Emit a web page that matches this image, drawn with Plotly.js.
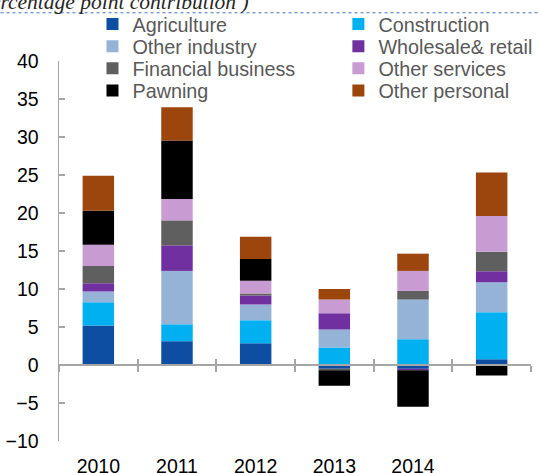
<!DOCTYPE html>
<html>
<head>
<meta charset="utf-8">
<script src="https://cdn.plot.ly/plotly-3.0.1.min.js"></script>
<style>html,body{margin:0;padding:0;background:#fff;}#chart{width:539px;height:473px;}</style>
</head>
<body>
<div id="chart"></div>
<script>
// ---- data ----
var categories = ["2010", "2011", "2012", "2013", "2014", "2015"];
var tickLabels = ["2010", "2011", "2012", "2013", "2014", ""];
var seriesNames = ["Agriculture", "Construction", "Other industry", "Wholesale& retail",
                   "Financial business", "Other services", "Pawning", "Other personal"];
var agriculture     = [5.19, 3.13, 2.87, -0.50, -0.50, 0.76];
var construction    = [3.06, 2.23, 3.02, 2.30, 3.39, 6.18];
var otherIndustry   = [1.41, 7.02, 2.06, 2.36, 5.22, 3.94];
var wholesaleRetail = [1.09, 3.36, 1.18, 2.15, -0.20, 1.45];
var financial       = [2.29, 3.29, 0.27, -0.20, 1.14, 2.58];
var otherServices   = [2.79, 2.81, 1.70, 1.80, 2.63, 4.69];
var pawning         = [4.47, 7.70, 2.86, -2.03, -4.80, -1.38];
var otherPersonal   = [4.60, 4.39, 2.93, 1.40, 2.27, 5.74];
var seriesValues = [agriculture, construction, otherIndustry, wholesaleRetail,
                    financial, otherServices, pawning, otherPersonal];
var titleText = "(percentage point contribution )";

// ---- styles ----
var colors = ["#0e4ea2", "#00b0f0", "#95b3d7", "#7030a0", "#5f5f5f", "#c89bd2", "#000000", "#9c450d"];
var W = 539, H = 473;
var M = {l: 58.5, r: 8.3, t: 60.8, b: 31.6, autoexpand: false};
var pw = W - M.l - M.r, ph = H - M.t - M.b;
function px2x(p) { return (p - M.l) / pw; }
function py2y(p) { return 1 + (M.t - p) / ph; }

var legendTextX = [132, 378];
var legendRowY = [23.8, 46.2, 68.2, 90.5];

var traces = seriesNames.map(function (name, i) {
  return {
    type: "bar",
    name: name,
    x: categories,
    y: seriesValues[i],
    marker: {color: colors[i], line: {width: 0}},
    legend: i === 0 ? "legend" : "legend" + (i + 1),
    hoverinfo: "name+y"
  };
});

// empty carriers so that the two zero-position axes (line + crossing ticks) get drawn
var emptyY = categories.map(function () { return null; });
["x2", "x3"].forEach(function (ax) {
  traces.push({
    type: "scatter", mode: "markers",
    x: categories.map(function (c, i) { return i; }), y: emptyY,
    xaxis: ax, yaxis: "y", showlegend: false, hoverinfo: "skip",
    marker: {opacity: 0}
  });
});

var boundaries = categories.map(function (c, i) { return i - 0.5; }).concat([categories.length - 0.5]);

var layout = {
  width: W, height: H,
  margin: M,
  paper_bgcolor: "#fff", plot_bgcolor: "rgba(0,0,0,0)",
  barmode: "relative",
  bargap: 0.6,
  font: {family: "Liberation Sans, Arial, sans-serif", size: 19.5, color: "#000"},
  xaxis: {
    type: "category",
    range: [-0.5, categories.length - 0.5],
    tickvals: categories, ticktext: tickLabels,
    showline: false, showgrid: false, zeroline: false,
    ticks: "", ticklabelstandoff: 11,
    tickfont: {size: 19.5, color: "#000"}
  },
  xaxis2: {
    overlaying: "x", anchor: "free", position: 0.2,
    type: "linear", range: [-0.5, categories.length - 0.5],
    tickvals: boundaries,
    showticklabels: false, showgrid: false, zeroline: false,
    showline: true, linecolor: "#a6a6a6", linewidth: 2,
    ticks: "outside", ticklen: 6, tickwidth: 2, tickcolor: "#a6a6a6",
    layer: "above traces"
  },
  xaxis3: {
    overlaying: "x", anchor: "free", position: 0.2,
    type: "linear", range: [-0.5, categories.length - 0.5],
    tickvals: boundaries,
    showticklabels: false, showgrid: false, zeroline: false, showline: false,
    ticks: "inside", ticklen: 6, tickwidth: 2, tickcolor: "#a6a6a6",
    layer: "above traces"
  },
  yaxis: {
    range: [-10, 40], dtick: 5, tick0: 0,
    showgrid: false, zeroline: false,
    showline: true, linecolor: "#a6a6a6", linewidth: 1.5,
    ticks: "inside", ticklen: 6, tickwidth: 1.5, tickcolor: "#a6a6a6",
    ticklabelstandoff: 15,
    tickfont: {size: 19.5, color: "#000"}
  },
  showlegend: true,
  annotations: [{
    text: "<i>" + titleText + "</i>",
    xref: "paper", yref: "paper",
    x: px2x(-30), y: py2y(16),
    xanchor: "left", yanchor: "bottom",
    showarrow: false,
    font: {family: "Liberation Serif, Times New Roman, serif", size: 21.5, color: "#262626"}
  }],
  shapes: [{
    type: "line", xref: "paper", yref: "paper",
    x0: px2x(0), x1: px2x(W), y0: py2y(12.5), y1: py2y(12.5),
    line: {color: "#4472c4", width: 1, dash: "dot"}
  }]
};

seriesNames.forEach(function (n, i) {
  var key = i === 0 ? "legend" : "legend" + (i + 1);
  var col = i % 2, row = Math.floor(i / 2);
  layout[key] = {
    x: px2x(legendTextX[col] - 40), y: py2y(legendRowY[row]),
    xanchor: "left", yanchor: "middle",
    orientation: "v",
    bgcolor: "rgba(0,0,0,0)", borderwidth: 0,
    font: {size: 19.8, color: "#595959", family: "Liberation Sans, Arial, sans-serif"},
    itemclick: false, itemdoubleclick: false
  };
});

Plotly.newPlot("chart", traces, layout, {staticPlot: true, displayModeBar: false});
</script>
</body>
</html>
